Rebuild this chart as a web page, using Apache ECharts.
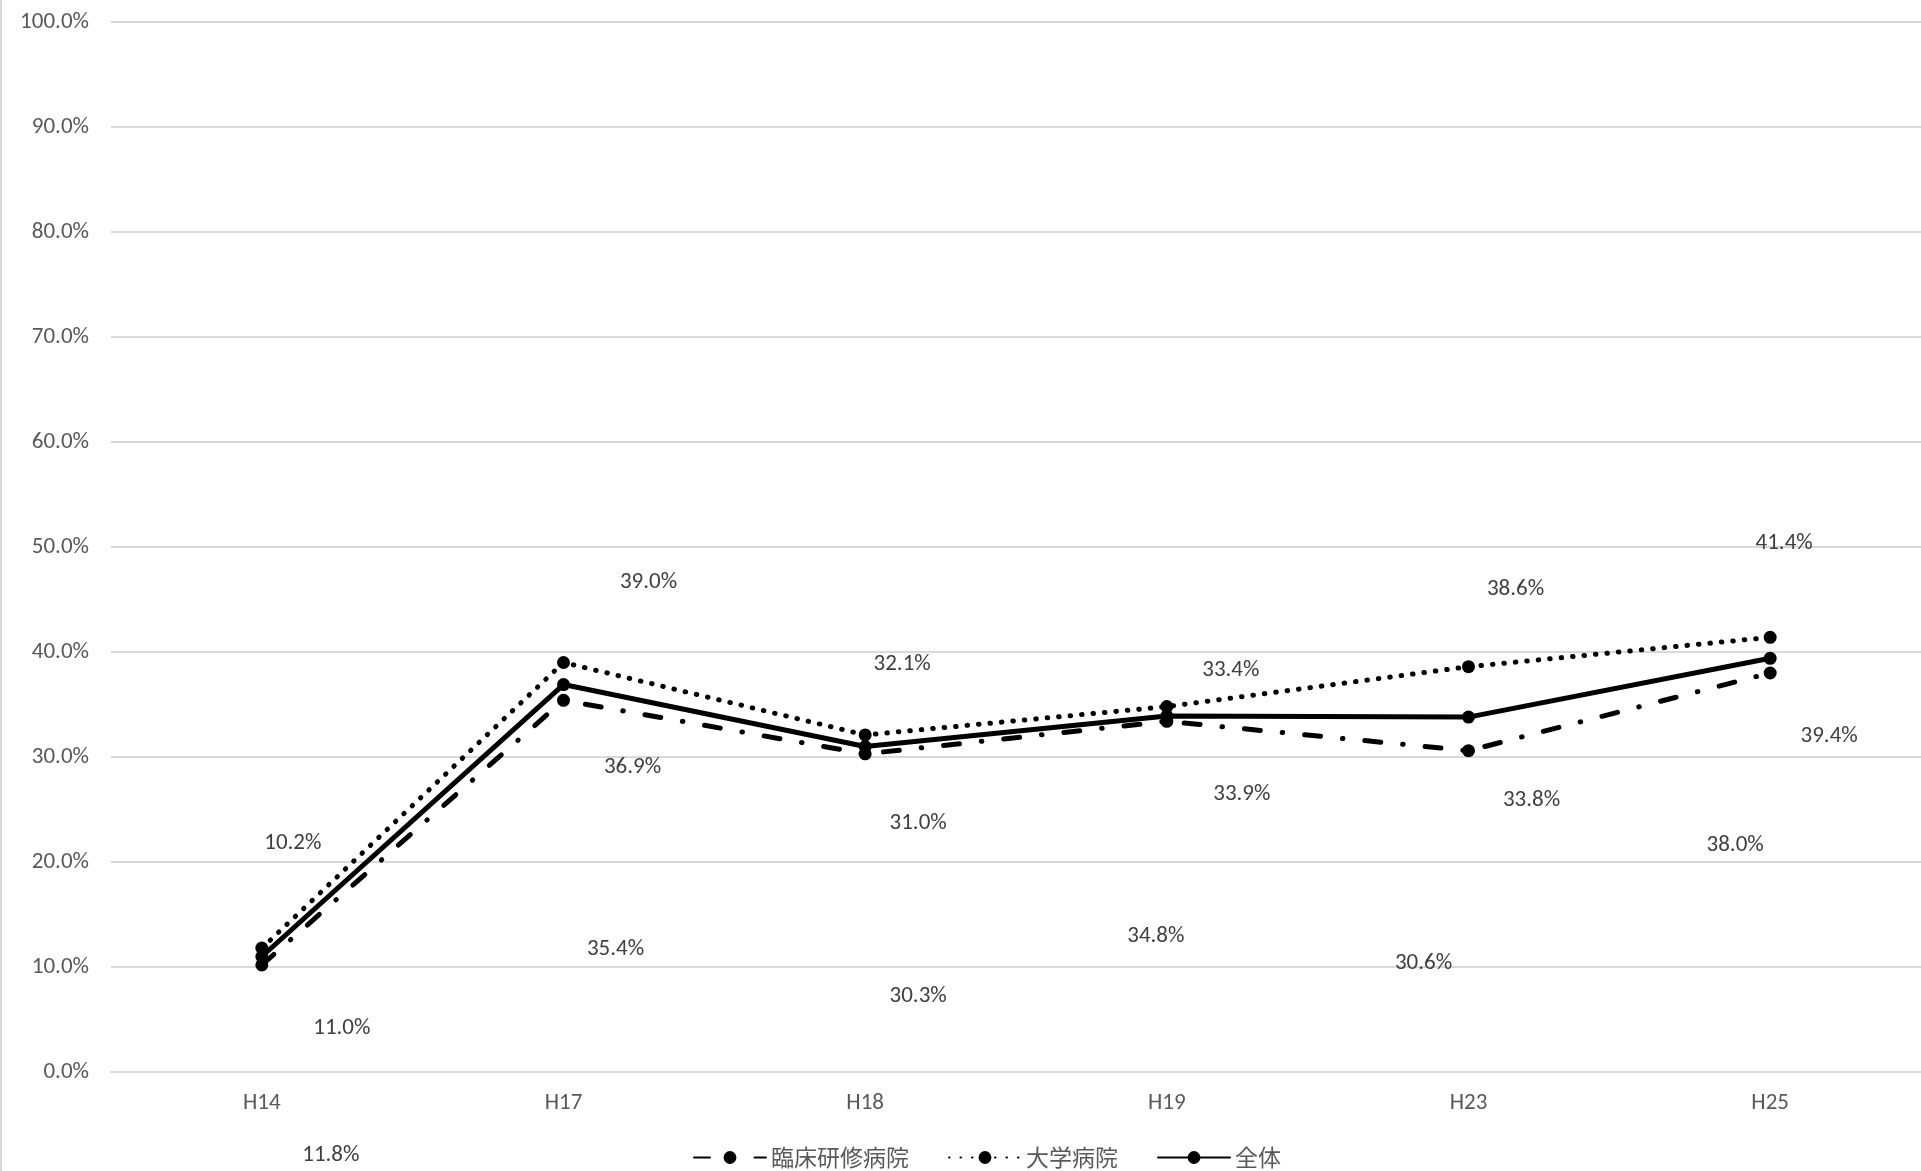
<!DOCTYPE html>
<html><head><meta charset="utf-8">
<script src="https://cdn.jsdelivr.net/npm/echarts@6/dist/echarts.min.js"></script>
<style>html,body{margin:0;padding:0;background:#fff}#c{width:1921px;height:1171px}</style>
</head><body><div id="c"></div>
<script>
// ---- data ----
const categories = ['H14', 'H17', 'H18', 'H19', 'H23', 'H25'];
const seriesNames = ['臨床研修病院', '大学病院', '全体'];
const rinshoValues = [10.2, 35.4, 30.3, 33.4, 30.6, 38.0];
const daigakuValues = [11.8, 39.0, 32.1, 34.8, 38.6, 41.4];
const zentaiValues = [11.0, 36.9, 31.0, 33.9, 33.8, 39.4];
const yMin = 0, yMax = 100, yStep = 10;

// ---- label placement (style, pixel offsets from each point) ----
const rinshoLabelOffsets = [[31,-122],[52,249],[53,242],[64,-51],[-45,213],[-35,172]];
const daigakuLabelOffsets = [[69,207],[85,-80],[37,-71],[-11,230],[47,-77],[14,-94]];
const zentaiLabelOffsets = [[80,72],[69,83],[53,77],[75,78],[63,83],[59,78]];

const numFont = 'Carlito, Lato, "Noto Sans", sans-serif';
const cjkFont = '"Noto Sans CJK JP", "Noto Sans", sans-serif';

function buildData(values, offsets) {
  return values.map((v, i) => ({ value: v, label: { offset: offsets[i] } }));
}
function mkSeries(name, values, offsets, lineType) {
  return {
    name: name,
    type: 'line',
    data: buildData(values, offsets),
    symbol: 'circle',
    symbolSize: 13,
    itemStyle: { color: '#000' },
    lineStyle: { color: '#000', width: 5, type: lineType, cap: 'round', join: 'round' },
    label: {
      show: true,
      position: 'inside',
      formatter: p => p.value.toFixed(1) + '%',
      color: '#404040',
      fontFamily: numFont,
      fontSize: 23,
      align: 'center',
      verticalAlign: 'middle'
    },
    emphasis: { disabled: true },
    animation: false
  };
}

const chart = echarts.init(document.getElementById('c'));
chart.setOption({
  backgroundColor: '#fff',
  animation: false,
  graphic: [{
    type: 'line', shape: { x1: 1, y1: 0, x2: 1, y2: 1171 },
    style: { stroke: '#d9d9d9', lineWidth: 2 }
  }],
  grid: { left: 111, top: 22, width: 1813, height: 1050, containLabel: false },
  legend: {
    left: 688, top: 1141,
    itemWidth: 72, itemHeight: 16, itemGap: 39,
    textStyle: { color: '#595959', fontFamily: cjkFont, fontSize: 23 },
    data: seriesNames
  },
  xAxis: {
    type: 'category',
    data: categories,
    boundaryGap: true,
    axisLine: { show: true, lineStyle: { color: '#d9d9d9', width: 2 } },
    axisTick: { show: false },
    axisLabel: { color: '#595959', fontFamily: numFont, fontSize: 23, margin: 20 }
  },
  yAxis: {
    type: 'value',
    min: yMin, max: yMax, interval: yStep,
    axisLine: { show: false },
    axisTick: { show: false },
    splitLine: { lineStyle: { color: '#d9d9d9', width: 2 } },
    axisLabel: {
      color: '#595959', fontFamily: numFont, fontSize: 23, margin: 22,
      formatter: v => v.toFixed(1) + '%'
    }
  },
  series: [
    mkSeries(seriesNames[0], rinshoValues, rinshoLabelOffsets, [16, 22, 0.5, 22]),
    mkSeries(seriesNames[1], daigakuValues, daigakuLabelOffsets, [0.5, 11]),
    mkSeries(seriesNames[2], zentaiValues, zentaiLabelOffsets, 'solid')
  ]
});
</script></body></html>
